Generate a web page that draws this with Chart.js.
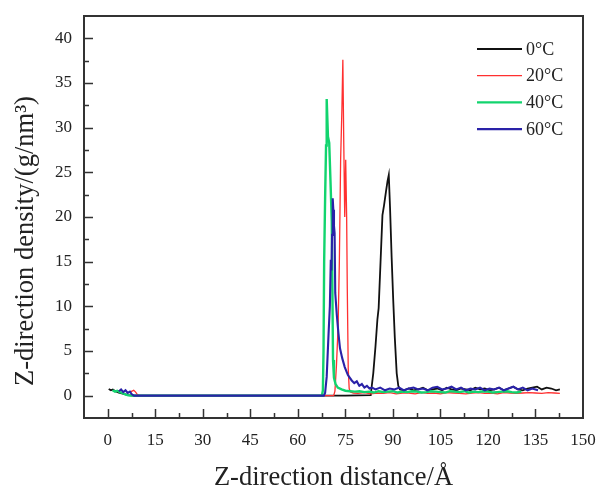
<!DOCTYPE html>
<html>
<head>
<meta charset="utf-8">
<script src="https://cdn.jsdelivr.net/npm/chart.js@4.4.1/dist/chart.umd.min.js"></script>
<style>
  html, body { margin: 0; padding: 0; background: #fff; }
</style>
</head>
<body>
<canvas id="densityChart" width="598" height="490"></canvas>
<script>
// tick values
const xTicks = [0, 15, 30, 45, 60, 75, 90, 105, 120, 135, 150];
const xMinorTicks = [7.5, 22.5, 37.5, 52.5, 67.5, 82.5, 97.5, 112.5, 127.5, 142.5];
const yTicks = [0, 5, 10, 15, 20, 25, 30, 35, 40];
const yMinorTicks = [2.5, 7.5, 12.5, 17.5, 22.5, 27.5, 32.5, 37.5];

const seriesLabels = ['0\u00b0C', '20\u00b0C', '40\u00b0C', '60\u00b0C'];
const xTitle = 'Z-direction distance/\u00c5';
const yTitle = 'Z-direction density/(g/nm\u00b3)';

// 0 C
const dist0C = [0.3, 1, 1.6, 2.4, 3.5, 5, 6.5, 8, 30, 60, 75, 83,
  83.3, 83.8, 84.5, 85.1, 85.5, 86.1, 86.7, 87.2, 87.8, 88.3, 88.7,
  89.1, 89.6, 90.1, 90.6, 91.2, 91.7, 92.2,
  93.5, 95, 96.5, 98, 99.5, 101, 102.5, 104, 105.5, 107,
  108.5, 110, 111.5, 113, 114.5, 116, 117.5, 119, 120.5, 122,
  123.5, 125, 126.5, 128, 129.5, 131, 132.5, 134, 135.5, 137,
  138.5, 140, 141.5, 142.7];
const dens0C = [0.75, 0.6, 0.7, 0.5, 0.35, 0.2, 0.05, 0, 0, 0, 0, 0.05,
  1.0, 2.5, 5.5, 8.5, 9.8, 15, 20.2, 21.3, 22.8, 24, 24.7,
  21, 15.5, 10.7, 6.5, 2.5, 1.1, 0.7,
  0.6, 0.8, 0.6, 0.7, 0.9, 0.6, 0.7, 0.8, 0.6, 0.9,
  0.7, 0.6, 0.8, 0.7, 0.6, 0.9, 0.7, 0.8, 0.6, 0.7,
  0.9, 0.6, 0.8, 1.0, 0.7, 0.6, 0.8, 0.9, 1.0, 0.7,
  0.9, 0.8, 0.6, 0.7];

// 20 C
const dist20C = [6.5, 7.3, 8.2, 8.8, 9.4, 10, 40,
  71.3, 71.7, 72.2, 72.7, 73.1, 73.5, 73.9, 74.2,
  74.5, 74.8, 75.1, 75.4, 75.6, 75.9, 76.2, 76.6, 77.5,
  79, 81, 83, 85, 87, 89, 91, 93, 95, 97,
  99, 101, 103, 105, 107, 109, 111, 113, 115, 117,
  119, 121, 123, 125, 127, 129, 131, 133, 135, 137,
  139, 141, 142.7];
const dens20C = [0.3, 0.45, 0.6, 0.4, 0.1, 0, 0,
  0, 0.5, 3.5, 7.7, 15, 26.4, 32, 37.6,
  28, 20, 26.4, 20, 12, 3, 0.8, 0.4, 0.3,
  0.25, 0.35, 0.2, 0.3, 0.25, 0.35, 0.2, 0.3, 0.3, 0.2,
  0.35, 0.25, 0.3, 0.2, 0.35, 0.3, 0.25, 0.2, 0.3, 0.35,
  0.25, 0.3, 0.2, 0.35, 0.3, 0.25, 0.3, 0.35, 0.3, 0.25,
  0.35, 0.3, 0.25];

// 40 C
const dist40C = [1.5, 2.3, 3.0, 3.8, 4.6, 5.5, 6.5, 7.5, 40,
  67.6, 67.9, 68.1, 68.3, 68.6, 68.9, 69.1,
  69.5, 69.9, 70.3, 70.7, 70.9, 71.1, 71.4, 71.9, 72.6, 73.8,
  75, 76.5,
  78, 79.5, 81, 82.5, 84, 85.5, 87, 88.5, 90, 91.5,
  93, 94.5, 96, 97.5, 99, 100.5, 102, 103.5, 105, 106.5,
  108, 109.5, 111, 112.5, 114, 115.5, 117, 118.5, 120, 121.5,
  123, 124.5, 126, 127.5, 129, 130.6];
const dens40C = [0.6, 0.45, 0.55, 0.4, 0.3, 0.15, 0.05, 0, 0,
  0, 0.6, 5, 15, 22, 28, 33.2,
  29, 28.3, 24, 19.5, 12, 4, 2, 1.3, 0.9, 0.7,
  0.55, 0.5,
  0.45, 0.5, 0.4, 0.45, 0.35, 0.5, 0.4, 0.45, 0.5, 0.35,
  0.45, 0.4, 0.5, 0.45, 0.35, 0.4, 0.5, 0.45, 0.4, 0.35,
  0.5, 0.45, 0.4, 0.5, 0.35, 0.45, 0.4, 0.5, 0.45, 0.35,
  0.4, 0.45, 0.5, 0.4, 0.35, 0.45];

// 60 C
const dist60C = [3.5, 4.2, 4.9, 5.6, 6.3, 7, 7.6, 8.3, 40,
  68.2, 68.6, 69.1, 69.7, 70.1, 70.4, 70.6, 70.8, 71.0, 71.2, 71.4, 71.6, 71.8,
  72.3, 72.8, 73.3, 74.0, 74.8, 75.8, 77,
  77.8, 78.6, 79.4, 80.2, 81, 81.8, 82.6, 83.4,
  84.5, 86, 87.5, 89, 90.5, 92, 93.5, 95, 96.5, 98,
  99.5, 101, 102.5, 104, 105.5, 107, 108.5, 110, 111.5, 113,
  114.5, 116, 117.5, 119, 120.5, 122, 123.5, 125, 126.5, 128,
  129.5, 131, 132.5, 134, 135.8];
const dens60C = [0.5, 0.7, 0.4, 0.6, 0.3, 0.45, 0.15, 0, 0,
  0, 0.3, 2.1, 7, 10, 15.2, 14, 18, 22.1, 20.8, 19, 18.2, 11.5,
  9, 7, 5.3, 4.2, 3.2, 2.3, 1.7,
  1.4, 1.6, 1.1, 1.3, 0.9, 1.1, 0.8, 0.9,
  0.7, 0.9, 0.6, 0.8, 0.7, 0.9, 0.6, 0.8, 0.9, 0.7,
  0.8, 0.6, 0.9, 1.0, 0.7, 0.8, 1.0, 0.7, 0.9, 0.6,
  0.8, 0.7, 0.9, 0.6, 0.8, 0.7, 0.9, 0.6, 0.8, 1.0,
  0.7, 0.9, 0.6, 0.8, 0.6];

const serif = '"Liberation Serif", "Times New Roman", serif';
const inkColor = '#222';

toPoints = (xs, ys) => xs.map((x, i) => ({ x: x, y: ys[i] }));

// frame box and inward ticks
const frameTicks = {
    id: 'frameTicks',
    afterDatasetsDraw(chart) {
        const { ctx, chartArea: a, scales: { x, y } } = chart;
        ctx.save();
        ctx.strokeStyle = '#333';
        ctx.lineWidth = 1.5;
        ctx.beginPath();
        xTicks.forEach(v => {
            let px = Math.round(x.getPixelForValue(v)) + 0.5;
            if (px < a.right - 2) { ctx.moveTo(px, a.bottom); ctx.lineTo(px, a.bottom - 9); }
        });
        xMinorTicks.forEach(v => {
            let px = Math.round(x.getPixelForValue(v)) + 0.5;
            ctx.moveTo(px, a.bottom); ctx.lineTo(px, a.bottom - 5);
        });
        yTicks.forEach(v => {
            let py = Math.round(y.getPixelForValue(v)) + 0.5;
            ctx.moveTo(a.left, py); ctx.lineTo(a.left + 9, py);
        });
        yMinorTicks.forEach(v => {
            let py = Math.round(y.getPixelForValue(v)) + 0.5;
            ctx.moveTo(a.left, py); ctx.lineTo(a.left + 5, py);
        });
        ctx.stroke();
        ctx.lineWidth = 2;
        ctx.strokeRect(a.left, a.top, a.right - a.left, a.bottom - a.top);
        ctx.restore();
    }
};

// legend in the top right corner of the plot, and the y title
const cornerLegend = {
    id: 'cornerLegend',
    afterDraw(chart) {
        const { ctx, chartArea: a } = chart;
        ctx.save();
        ctx.font = '18px ' + serif;
        ctx.textBaseline = 'middle';
        ctx.fillStyle = inkColor;
        chart.data.datasets.forEach((ds, i) => {
            let rowY = a.top + 33 + i * 26.7;
            ctx.strokeStyle = ds.borderColor;
            ctx.lineWidth = ds.borderWidth;
            ctx.beginPath();
            ctx.moveTo(a.right - 106, rowY);
            ctx.lineTo(a.right - 61, rowY);
            ctx.stroke();
            ctx.fillText(ds.label, a.right - 57, rowY + 1);
        });

        ctx.translate(26, (a.top + a.bottom) / 2 + 24);
        ctx.rotate(-Math.PI / 2);
        ctx.font = '26.5px ' + serif;
        ctx.textAlign = 'center';
        ctx.fillText(yTitle, 0, 0);
        ctx.restore();
    }
};

let ctx = document.getElementById('densityChart').getContext('2d');
let densityChart = new Chart(ctx, {
    type: 'line',
    data: {
        datasets: [{
            label: seriesLabels[0],
            data: toPoints(dist0C, dens0C),
            borderColor: '#111111',
            borderWidth: 1.8,
            order: 4
        }, {
            label: seriesLabels[1],
            data: toPoints(dist20C, dens20C),
            borderColor: '#ff3030',
            borderWidth: 1.3,
            order: 3
        }, {
            label: seriesLabels[2],
            data: toPoints(dist40C, dens40C),
            borderColor: '#12d46e',
            borderWidth: 2.4,
            order: 2
        }, {
            label: seriesLabels[3],
            data: toPoints(dist60C, dens60C),
            borderColor: '#2a22a8',
            borderWidth: 2.1,
            order: 1
        }]
    },
    options: {
        responsive: false,
        animation: false,
        layout: { padding: { top: 16, right: 15, left: 0, bottom: 0 } },
        elements: {
            point: { radius: 0 },
            line: { tension: 0, fill: false }
        },
        plugins: {
            legend: { display: false },
            tooltip: { enabled: false }
        },
        scales: {
            x: {
                type: 'linear',
                min: -7.5,
                max: 150,
                afterBuildTicks: scale => { scale.ticks = xTicks.map(v => ({ value: v })); },
                afterFit: scale => {
                    scale.height = 72;
                    scale.paddingLeft = 0;
                    scale.paddingRight = 0;
                },
                grid: { display: false, drawTicks: false },
                border: { display: false },
                ticks: {
                    autoSkip: false,
                    maxRotation: 0,
                    padding: 12,
                    color: inkColor,
                    font: { family: serif, size: 17 }
                },
                title: {
                    display: true,
                    text: xTitle,
                    color: inkColor,
                    padding: { top: 0, bottom: 0 },
                    font: { family: serif, size: 26.5, lineHeight: 0.9 }
                }
            },
            y: {
                type: 'linear',
                min: -2.5,
                max: 42.5,
                afterBuildTicks: scale => { scale.ticks = yTicks.map(v => ({ value: v })); },
                afterFit: scale => {
                    scale.width = 84;
                    scale.paddingTop = 0;
                    scale.paddingBottom = 0;
                },
                grid: { display: false, drawTicks: false },
                border: { display: false },
                ticks: {
                    autoSkip: false,
                    padding: 12,
                    color: inkColor,
                    font: { family: serif, size: 17 }
                }
            }
        }
    },
    plugins: [frameTicks, cornerLegend]
});
</script>
</body>
</html>
